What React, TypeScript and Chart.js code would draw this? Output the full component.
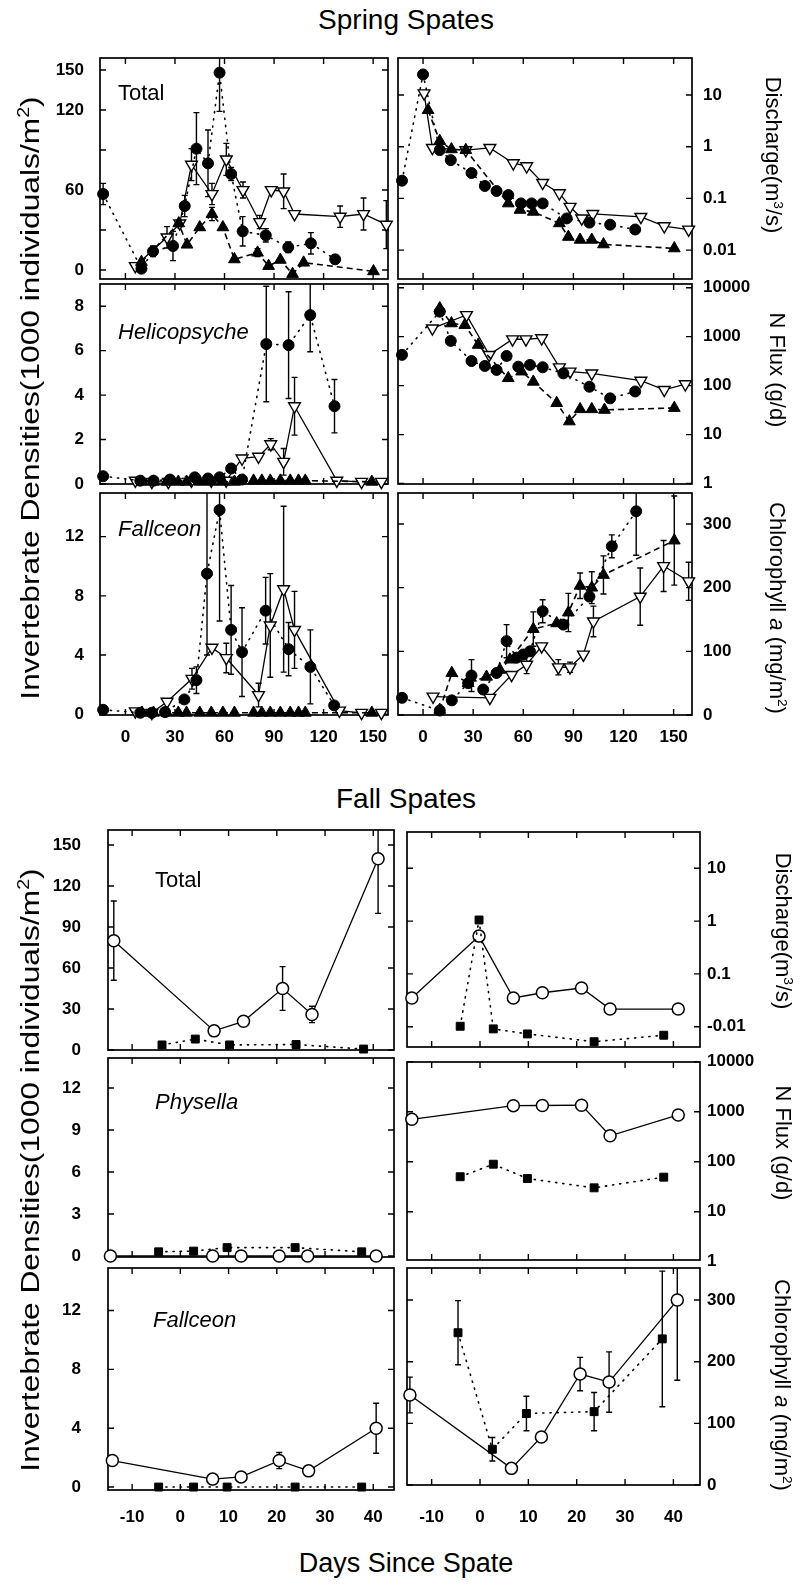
import React, { useEffect, useRef } from 'react';
import { Chart, registerables } from 'chart.js';
Chart.register(...registerables);

type Pt = number[]; // [x, y, err]

// ---------- tick values ----------
const springXTicks = [0, 30, 60, 90, 120, 150];
const fallXTicks = [-10, 0, 10, 20, 30, 40];
const spTotalYTicks = [0, 30, 60, 90, 120, 150];
const spTotalYLabels = ['0', '', '60', '', '120', '150'];
const dischargeYTicks = [0.01, 0.1, 1, 10];
const spDischargeLabels = ['0.01', '0.1', '1', '10'];
const faDischargeLabels = ['-0.01', '0.1', '1', '10'];
const helicoYTicks = [0, 2, 4, 6, 8];
const fluxYTicks = [1, 10, 100, 1000, 10000];
const fluxYLabels = ['1', '10', '100', '1000', '10000'];
const fallceonYTicks = [0, 4, 8, 12];
const chlYTicks = [0, 100, 200, 300];
const faTotalYTicks = [0, 30, 60, 90, 120, 150];
const physellaYTicks = [0, 3, 6, 9, 12];

// ---------- Spring: Total ----------
const spTotCircle: Pt[] = [[-13.5, 57, 8], [9.7, 1, 0], [16.7, 14, 4], [28.8, 18, 11], [35.9, 48, 8], [43, 91, 27], [50, 80, 25], [57, 148, 29], [64, 72, 5], [71, 29, 11], [85, 26, 5], [98.6, 17, 4], [112.3, 20, 8], [127, 8, 3]];
const spTotOpenTri: Pt[] = [[6, 3, 0], [25.2, 24.5, 8], [32.9, 35, 0], [40, 79, 12], [52.4, 57, 8], [61.1, 83, 12], [71.2, 60, 6], [81.3, 36, 5], [88.3, 60, 0], [95.8, 59, 13], [102.4, 42, 0], [130, 40, 8], [144.2, 42, 12], [158, 34, 18]];
const spTotTri: Pt[] = [[9.7, 6, 0], [32.3, 35, 0], [37.3, 19, 0], [45, 32, 0], [52.4, 42, 5], [59, 32, 0], [66, 8, 0], [80, 13, 3], [86.7, 3, 0], [93.8, 7.6, 0], [101.2, -3, 0], [107.9, 5.5, 0], [150.2, -1, 0]];
// ---------- Spring: Discharge ----------
const spQCircle: Pt[] = [[-12.6, 0.22], [0, 25], [10, 0.86], [16.6, 0.55], [29, 0.31], [37, 0.174], [44, 0.139], [51, 0.116], [58.6, 0.08], [65, 0.08], [71.6, 0.08], [86, 0.041], [99.6, 0.034], [112, 0.031], [127, 0.025]];
const spQOpenTri: Pt[] = [[0.6, 10.8], [5.6, 0.95], [25.6, 0.86], [40, 0.95], [54, 0.48], [62, 0.42], [71.6, 0.2], [81.6, 0.126], [88, 0.069], [95, 0.041], [101.6, 0.05], [130.4, 0.044], [144.4, 0.029], [159, 0.025]];
const spQTri: Pt[] = [[3, 5.1], [10, 1.29], [17, 0.89], [25.6, 0.86], [51, 0.08], [58, 0.06], [66, 0.055], [81.6, 0.033], [87, 0.018], [94, 0.0158], [101, 0.0158], [108, 0.0129], [150.4, 0.0108]];
// ---------- Spring: Helicopsyche ----------
const spHCircle: Pt[] = [[-13.5, 0.35], [9, 0.15], [17, 0.15], [27, 0.2], [42, 0.3], [50, 0.25], [57, 0.3], [64, 0.7], [70.6, 0.2], [85.3, 6.3, 2.6], [98.8, 6.25, 2.4], [111.9, 7.6, 1.65], [126.6, 3.5, 1.2]];
const spHOpenTri: Pt[] = [[6, 0.15], [16, 0.1], [26, 0.1], [40, 0.15], [52, 0.15], [61, 0.15], [70.6, 1.15], [80.6, 1.23], [88, 1.79, 0.25], [95.8, 1.0, 0.6], [102.4, 3.5, 1.3], [128, 0.15], [143, 0.1], [155, 0.1]];
const spHTri: Pt[] = [[10, 0.1], [17, 0.1], [25, 0.1], [32, 0.1], [37, 0.1], [45, 0.1], [52, 0.1], [59, 0.1], [66, 0.1], [77.6, 0.15], [82.6, 0.15], [87.7, 0.15], [93.8, 0.15], [99.8, 0.15], [104.8, 0.15], [108.9, 0.15], [149.2, 0.1]];
// ---------- Spring: N flux ----------
const spNCircle: Pt[] = [[-12.6, 425], [10, 3240], [16.6, 820], [29, 318], [37, 252], [44, 209], [50, 404], [57, 244], [64, 265], [71.6, 237], [84, 178], [99.6, 95], [112, 55], [127, 76]];
const spNOpenTri: Pt[] = [[5.6, 1480], [26, 2770], [39.6, 425], [53.6, 885], [61.6, 885], [71, 930], [81.6, 237], [88, 194], [101, 178], [130.4, 126], [144.4, 82], [157, 107]];
const spNTri: Pt[] = [[10, 3800], [17, 1870], [25, 1730], [33, 680], [51, 142], [59, 194], [66, 120], [80, 44], [87.6, 18.6], [94, 33], [101, 33], [108.6, 32], [150.4, 35]];
// ---------- Spring: Fallceon ----------
const spFCircle: Pt[] = [[-13.5, 0.3], [9, 0.1], [16, 0.1], [24, 0.15], [35.7, 1.0], [43, 2.3, 0.9], [49.4, 9.5, 5.5], [57, 13.8, 7.5], [64, 5.7, 3.0], [70.6, 4.2, 3.0], [84.9, 7.0, 2.25], [98.8, 4.4, 1.8], [112, 3.2, 2.5], [126.4, 0.6]];
const spFOpenTri: Pt[] = [[6, 0.2], [16, 0.1], [25.2, 0.85], [40.3, 2.4, 0.7], [52.4, 4.5], [61.1, 3.8, 1.0], [80.6, 1.3, 0.8], [87.7, 6.0, 3.5], [95.8, 8.45, 5.6], [102.4, 5.7, 2.6], [129.6, 0.25], [143, 0.1], [155, 0.1]];
const spFTri: Pt[] = [[10, 0.1], [17, 0.1], [25, 0.1], [32, 0.1], [37, 0.1], [45, 0.1], [52, 0.1], [59, 0.1], [66, 0.1], [77.6, 0.1], [82.6, 0.1], [87.7, 0.1], [93.8, 0.1], [99.8, 0.1], [104.8, 0.1], [108.9, 0.1], [149.2, 0.1]];
// ---------- Spring: Chlorophyll ----------
const spCCircle: Pt[] = [[-12.6, 27], [10, 7], [17.2, 23], [27, 50], [29, 62, 25], [36, 40], [44, 66], [50, 116, 26], [56, 90], [60, 95], [64, 100], [71.6, 163, 18], [84, 142], [99.6, 186], [113, 265, 18], [127.6, 320, 69]];
const spCOpenTri: Pt[] = [[6, 29], [40, 27], [53, 63], [62, 79, 14], [71, 108], [81, 75, 12], [88, 75, 8], [96, 95], [102, 147, 24], [130, 186, 45], [144, 234, 40], [159, 210, 30]];
const spCTri: Pt[] = [[10, 8], [17.2, 66], [27, 50], [38, 60], [46, 71], [52, 87], [66, 135, 27], [80, 144], [87, 161, 30], [94, 203, 20], [101, 200, 25], [108, 220, 30], [150.4, 274, 70]];

// ---------- Fall ----------
const faTotCircle: Pt[] = [[-13.8, 80, 29], [7, 14, 0], [13.1, 21, 0], [21.2, 45, 16], [27.3, 26, 6], [41, 140, 40]];
const faTotSquare: Pt[] = [[-3.8, 3.7], [3.1, 8], [10.2, 3.7], [24, 4], [38, 0.7]];
const faQCircle: Pt[] = [[-14.1, 0.035], [-0.2, 0.52], [6.9, 0.035], [12.9, 0.044], [21, 0.054], [26.9, 0.0216], [41, 0.0216]];
const faQSquare: Pt[] = [[-4.1, 0.0102], [-0.2, 1.05], [2.75, 0.0091], [9.8, 0.0073], [23.6, 0.0052], [38, 0.0069]];
const faPCircle: Pt[] = [[-14.5, 0], [6.7, 0], [12.6, 0], [20.5, 0], [26.4, 0], [40.6, 0]];
const faPSquare: Pt[] = [[-4.5, 0.3], [2.75, 0.35], [9.7, 0.6], [23.8, 0.6], [37.6, 0.3]];
const faNCircle: Pt[] = [[-14.1, 704], [6.9, 1320], [12.9, 1330], [21, 1350], [26.9, 330], [41, 860]];
const faNSquare: Pt[] = [[-4.1, 50], [2.75, 89], [9.8, 46], [23.6, 30], [38, 49]];
const faFCircle: Pt[] = [[-14.1, 1.8], [6.7, 0.54], [12.6, 0.69], [20.5, 1.8, 0.55], [26.6, 1.1], [40.6, 4.0, 1.7]];
const faFSquare: Pt[] = [[-4.5, 0], [2.75, 0], [9.7, 0], [23.8, 0], [37.6, 0]];
const faCCircle: Pt[] = [[-14.5, 146, 29], [6.5, 27], [12.7, 78], [20.7, 180, 27], [26.7, 167, 49], [40.8, 300, 130]];
const faCSquare: Pt[] = [[-4.55, 247, 52], [2.55, 58, 19], [9.6, 116, 28], [23.6, 119, 31], [37.7, 237, 110]];

type Mark = 'cf' | 'tdo' | 'tf' | 'co' | 'sf';
type LineKind = 'dot' | 'dash' | 'solid';
type Series = { pts: Pt[]; mark: Mark; line: LineKind };
type Panel = {
  key: string; L: number; T: number; R: number; B: number; side: 'left' | 'right';
  xMin: number; xMax: number; xTicks: number[]; xLabels: boolean; xPad: number;
  yLog: boolean; yMin: number; yMax: number; yTicks: number[]; yLabels: string[]; yPad: number;
  series: Series[];
};

const FONT = "'Liberation Sans', Arial, Helvetica, sans-serif";

const spSeries = (c: Pt[], o: Pt[], t: Pt[]): Series[] => [
  { pts: c, mark: 'cf', line: 'dot' },
  { pts: t, mark: 'tf', line: 'dash' },
  { pts: o, mark: 'tdo', line: 'solid' },
];
const faSeries = (c: Pt[], s: Pt[]): Series[] => [
  { pts: s, mark: 'sf', line: 'dot' },
  { pts: c, mark: 'co', line: 'solid' },
];

const lin = (v: number[]) => v.map(String);

const panels: Panel[] = [
  { key: 'spTot', L: 100, T: 58, R: 388, B: 279, side: 'left', xMin: -15.4, xMax: 159, xTicks: springXTicks, xLabels: false, xPad: 14,
    yLog: false, yMin: -6.75, yMax: 159, yTicks: spTotalYTicks, yLabels: spTotalYLabels, yPad: 16, series: spSeries(spTotCircle, spTotOpenTri, spTotTri) },
  { key: 'spQ', L: 398, T: 58, R: 692, B: 279, side: 'right', xMin: -15, xMax: 161, xTicks: springXTicks, xLabels: false, xPad: 14,
    yLog: true, yMin: 0.00276, yMax: 52, yTicks: dischargeYTicks, yLabels: spDischargeLabels, yPad: 11, series: spSeries(spQCircle, spQOpenTri, spQTri) },
  { key: 'spH', L: 100, T: 284, R: 388, B: 484, side: 'left', xMin: -15.4, xMax: 159, xTicks: springXTicks, xLabels: false, xPad: 14,
    yLog: false, yMin: 0, yMax: 9.0, yTicks: helicoYTicks, yLabels: lin(helicoYTicks), yPad: 16, series: spSeries(spHCircle, spHOpenTri, spHTri) },
  { key: 'spN', L: 398, T: 284, R: 692, B: 484, side: 'right', xMin: -15, xMax: 161, xTicks: springXTicks, xLabels: false, xPad: 14,
    yLog: true, yMin: 0.98, yMax: 11900, yTicks: fluxYTicks, yLabels: fluxYLabels, yPad: 11, series: spSeries(spNCircle, spNOpenTri, spNTri) },
  { key: 'spF', L: 100, T: 493, R: 388, B: 715, side: 'left', xMin: -15.4, xMax: 159, xTicks: springXTicks, xLabels: true, xPad: 12,
    yLog: false, yMin: -0.05, yMax: 14.95, yTicks: fallceonYTicks, yLabels: lin(fallceonYTicks), yPad: 16, series: spSeries(spFCircle, spFOpenTri, spFTri) },
  { key: 'spC', L: 398, T: 493, R: 692, B: 715, side: 'right', xMin: -15, xMax: 161, xTicks: springXTicks, xLabels: true, xPad: 12,
    yLog: false, yMin: 0, yMax: 348.7, yTicks: chlYTicks, yLabels: lin(chlYTicks), yPad: 11, series: spSeries(spCCircle, spCOpenTri, spCTri) },

  { key: 'faTot', L: 108, T: 830, R: 394, B: 1050, side: 'left', xMin: -15, xMax: 44.3, xTicks: fallXTicks, xLabels: false, xPad: 18,
    yLog: false, yMin: 0, yMax: 161, yTicks: faTotalYTicks, yLabels: lin(faTotalYTicks), yPad: 27, series: faSeries(faTotCircle, faTotSquare) },
  { key: 'faQ', L: 407, T: 832, R: 700, B: 1047, side: 'right', xMin: -15.1, xMax: 45.5, xTicks: fallXTicks, xLabels: false, xPad: 18,
    yLog: true, yMin: 0.00413, yMax: 48.7, yTicks: dischargeYTicks, yLabels: faDischargeLabels, yPad: 7, series: faSeries(faQCircle, faQSquare) },
  { key: 'faP', L: 108, T: 1058, R: 394, B: 1257, side: 'left', xMin: -15, xMax: 44.3, xTicks: fallXTicks, xLabels: false, xPad: 18,
    yLog: false, yMin: -0.07, yMax: 14.14, yTicks: physellaYTicks, yLabels: lin(physellaYTicks), yPad: 27, series: faSeries(faPCircle, faPSquare) },
  { key: 'faN', L: 407, T: 1062, R: 700, B: 1260, side: 'right', xMin: -15.1, xMax: 45.5, xTicks: fallXTicks, xLabels: false, xPad: 18,
    yLog: true, yMin: 1.08, yMax: 9860, yTicks: fluxYTicks, yLabels: fluxYLabels, yPad: 7, series: faSeries(faNCircle, faNSquare) },
  { key: 'faF', L: 108, T: 1268, R: 394, B: 1490, side: 'left', xMin: -15, xMax: 44.3, xTicks: fallXTicks, xLabels: true, xPad: 17,
    yLog: false, yMin: -0.2, yMax: 14.89, yTicks: fallceonYTicks, yLabels: lin(fallceonYTicks), yPad: 27, series: faSeries(faFCircle, faFSquare) },
  { key: 'faC', L: 407, T: 1268, R: 700, B: 1485, side: 'right', xMin: -15.1, xMax: 45.5, xTicks: fallXTicks, xLabels: true, xPad: 22,
    yLog: false, yMin: 0, yMax: 352, yTicks: chlYTicks, yLabels: lin(chlYTicks), yPad: 7, series: faSeries(faCCircle, faCSquare) },
];

const TICK = 6;

function markStyle(m: Mark) {
  switch (m) {
    case 'cf': return { pointStyle: 'circle', pointRadius: 5.5, pointBackgroundColor: '#000', pointBorderWidth: 1, pointRotation: 0 };
    case 'tdo': return { pointStyle: 'triangle', pointRadius: 6.8, pointBackgroundColor: '#fff', pointBorderWidth: 1.4, pointRotation: 180 };
    case 'tf': return { pointStyle: 'triangle', pointRadius: 6.8, pointBackgroundColor: '#000', pointBorderWidth: 1, pointRotation: 0 };
    case 'co': return { pointStyle: 'circle', pointRadius: 6, pointBackgroundColor: '#fff', pointBorderWidth: 1.5, pointRotation: 0 };
    default: return { pointStyle: 'rect', pointRadius: 5.6, pointBackgroundColor: '#000', pointBorderWidth: 1, pointRotation: 0 };
  }
}

const noPad = (sc: any) => { sc.paddingTop = 0; sc.paddingBottom = 0; sc.paddingLeft = 0; sc.paddingRight = 0; };

function PanelChart({ p }: { p: Panel }) {
  const ref = useRef<HTMLCanvasElement>(null);
  const padL = p.side === 'left' ? 70 : 10;
  const padR = p.side === 'left' ? 10 : 70;
  const padT = 14;
  const padB = p.xLabels ? 46 : 14;
  const w = p.R - p.L + padL + padR;
  const h = p.B - p.T + padT + padB;

  useEffect(() => {
    if (!ref.current) return;
    const tickFont = { family: FONT, size: 17, weight: 'bold' as const };
    const frame = {
      id: 'frame_' + p.key,
      beforeDatasetsDraw(chart: any) {
        const { ctx, chartArea: a, scales } = chart;
        const xs = scales.x, ys = scales.y;
        ctx.save();
        ctx.strokeStyle = '#000';
        ctx.lineWidth = 1.7;
        ctx.strokeRect(a.left, a.top, a.right - a.left, a.bottom - a.top);
        ctx.lineWidth = 1.4;
        ctx.beginPath();
        for (const v of p.xTicks) {
          const px = xs.getPixelForValue(v);
          ctx.moveTo(px, a.top); ctx.lineTo(px, a.top + TICK);
          ctx.moveTo(px, a.bottom); ctx.lineTo(px, a.bottom - TICK);
        }
        for (const v of p.yTicks) {
          const py = ys.getPixelForValue(v);
          if (py < a.top - 0.5 || py > a.bottom + 0.5) continue;
          ctx.moveTo(a.left, py); ctx.lineTo(a.left + TICK, py);
          ctx.moveTo(a.right, py); ctx.lineTo(a.right - TICK, py);
        }
        ctx.stroke();
        // error bars
        ctx.beginPath();
        ctx.rect(a.left, a.top, a.right - a.left, a.bottom - a.top);
        ctx.clip();
        ctx.lineWidth = 1.4;
        ctx.beginPath();
        for (const s of p.series) {
          for (const q of s.pts) {
            const e = q[2];
            if (!e) continue;
            const px = xs.getPixelForValue(q[0]);
            const y1 = ys.getPixelForValue(q[1] + e);
            const y2 = ys.getPixelForValue(q[1] - e);
            ctx.moveTo(px, y1); ctx.lineTo(px, y2);
            ctx.moveTo(px - 3, y1); ctx.lineTo(px + 3, y1);
            ctx.moveTo(px - 3, y2); ctx.lineTo(px + 3, y2);
          }
        }
        ctx.stroke();
        ctx.restore();
      },
    };
    const chart = new Chart(ref.current, {
      type: 'line',
      data: {
        datasets: p.series.map((s) => ({
          data: s.pts.map((q) => ({ x: q[0], y: q[1] })),
          showLine: true,
          borderColor: '#000',
          borderWidth: s.line === 'solid' ? 1.3 : 1.6,
          borderDash: s.line === 'dot' ? [1.2, 6] : s.line === 'dash' ? [6, 4] : [],
          borderCapStyle: s.line === 'dot' ? 'round' : 'butt',
          pointBorderColor: '#000',
          ...markStyle(s.mark),
          fill: false,
          tension: 0,
          clip: false,
        })) as any,
      },
      options: {
        animation: false,
        responsive: false,
        maintainAspectRatio: false,
        events: [],
        layout: { padding: { left: p.side === 'left' ? 0 : padL, right: p.side === 'left' ? padR : 0, top: padT, bottom: 0 } },
        plugins: { legend: { display: false }, tooltip: { enabled: false }, title: { display: false } },
        scales: {
          x: {
            type: 'linear', position: 'bottom', min: p.xMin, max: p.xMax, bounds: 'data',
            grid: { display: false, drawTicks: false }, border: { display: false },
            afterBuildTicks: (sc: any) => { sc.ticks = p.xTicks.map((v) => ({ value: v })); },
            afterFit: (sc: any) => { sc.height = padB; noPad(sc); },
            ticks: { display: p.xLabels, autoSkip: false, maxRotation: 0, padding: p.xPad, font: tickFont, color: '#000', callback: (v: any) => String(v) },
          },
          y: {
            type: p.yLog ? 'logarithmic' : 'linear', position: p.side, min: p.yMin, max: p.yMax, bounds: 'data',
            grid: { display: false, drawTicks: false }, border: { display: false },
            afterBuildTicks: (sc: any) => { sc.ticks = p.yTicks.map((v) => ({ value: v })); },
            afterFit: (sc: any) => { sc.width = p.side === 'left' ? padL : padR; noPad(sc); },
            ticks: {
              autoSkip: false, padding: p.yPad, font: tickFont, color: '#000',
              callback: (v: any) => { const i = p.yTicks.findIndex((t) => Math.abs(t - Number(v)) < 1e-9 * Math.max(1, Math.abs(t))); return i >= 0 ? p.yLabels[i] : ''; },
            },
          },
        },
      } as any,
      plugins: [frame],
    });
    return () => chart.destroy();
  }, []);

  return (
    <canvas ref={ref} width={w} height={h}
      style={{ position: 'absolute', left: p.L - padL, top: p.T - padT, width: w, height: h }} />
  );
}

const txt = (cx: number, cy: number, size: number, rot: number, content: React.ReactNode, sx = 1) => (
  <div style={{
    position: 'absolute', left: cx, top: cy, transform: `translate(-50%, -50%) rotate(${rot}deg) scaleX(${sx})`,
    whiteSpace: 'nowrap', fontSize: size, lineHeight: 1, fontFamily: FONT, color: '#000',
  }}>{content}</div>
);
const lbl = (left: number, cy: number, content: React.ReactNode, italic: boolean) => (
  <div style={{
    position: 'absolute', left, top: cy, transform: 'translateY(-50%)', whiteSpace: 'nowrap',
    fontSize: 22, lineHeight: 1, fontFamily: FONT, fontStyle: italic ? 'italic' : 'normal', color: '#000',
  }}>{content}</div>
);
const sup = (s: string) => <sup style={{ fontSize: '0.62em', verticalAlign: 'super', lineHeight: 0 }}>{s}</sup>;

export default function App() {
  const leftTitle = <>Invertebrate Densities(1000 individuals/m{sup('2')})</>;
  const disTitle = <>Discharge(m{sup('3')}/s)</>;
  const fluxTitle = <>N Flux (g/d)</>;
  const chlTitle = <>Chlorophyll <i>a</i> (mg/m{sup('2')})</>;
  return (
    <div style={{ position: 'absolute', left: 0, top: 0, width: 809, height: 1592, background: '#fff', overflow: 'hidden' }}>
      {panels.map((p) => <PanelChart key={p.key} p={p} />)}
      {txt(406, 20, 28, 0, 'Spring Spates')}
      {txt(406, 799, 28, 0, 'Fall Spates')}
      {txt(406, 1563, 27, 0, 'Days Since Spate')}
      {txt(30, 398, 26, -90, leftTitle, 1.22)}
      {txt(30, 1170, 26, -90, leftTitle, 1.22)}
      {txt(773, 155, 22, 90, disTitle)}
      {txt(777, 370, 22, 90, fluxTitle)}
      {txt(777, 608, 22, 90, chlTitle)}
      {txt(783, 931, 22, 90, disTitle)}
      {txt(783, 1143, 22, 90, fluxTitle)}
      {txt(782, 1385, 22, 90, chlTitle)}
      {lbl(118, 93, 'Total', false)}
      {lbl(118, 332, 'Helicopsyche', true)}
      {lbl(118, 529, 'Fallceon', true)}
      {lbl(155, 880, 'Total', false)}
      {lbl(155, 1102, 'Physella', true)}
      {lbl(153, 1320, 'Fallceon', true)}
    </div>
  );
}
